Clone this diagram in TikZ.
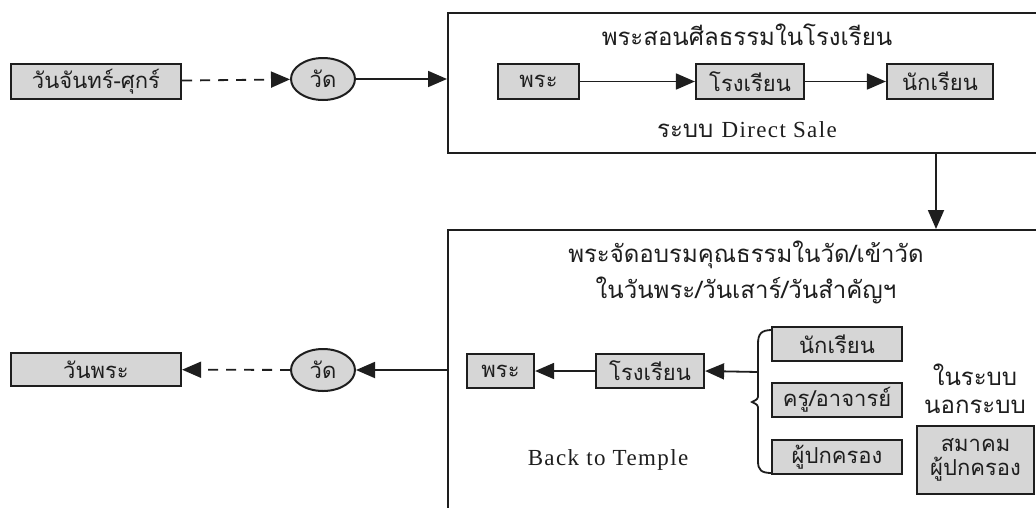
\documentclass[tikz,border=0pt]{standalone}
\usepackage{fontspec}
\setmainfont{Liberation Serif}
\newfontfamily\thai[Script=Thai]{Loma}
\newfontfamily\latin[LetterSpace=6]{Liberation Serif}
\usetikzlibrary{arrows.meta,shapes.geometric}
\definecolor{boxgray}{RGB}{214,214,214}
\definecolor{ink}{RGB}{30,30,30}
\begin{document}
\begin{tikzpicture}[x=1pt,y=-1pt,
  tbox/.style={draw=ink,line width=2.2pt,fill=boxgray,inner sep=0pt,text=ink,
    font=\thai\fontsize{22}{25}\selectfont},
  bigbox/.style={draw=ink,line width=2pt,fill=white,anchor=north west,inner sep=0pt},
  watnode/.style={ellipse,draw=ink,line width=2pt,fill=boxgray,minimum width=64pt,
    minimum height=42pt,inner sep=0pt,text=ink,font=\thai\fontsize{22}{25}\selectfont},
  lbl/.style={inner sep=0pt,text=ink,font=\thai\fontsize{24}{26}\selectfont},
  latlbl/.style={inner sep=0pt,text=ink,font=\latin\fontsize{23}{26}\selectfont},
  arr/.style={line width=1.8pt,draw=ink,-{Triangle[length=19pt,width=16pt]}},
  dsh/.style={dash pattern=on 10pt off 8pt}
]
\useasboundingbox[fill=white] (0,0) rectangle (1036,507);

% left column, top
\node[tbox,minimum width=170pt,minimum height=35pt] (mf) at (96,81.5) {วันจันทร์-ศุกร์};
\node[watnode] (wat1) at (323,79) {วัด};

% top big box
\node[bigbox,minimum width=620pt,minimum height=140pt] (topbox) at (447,12) {};
\node[lbl] (t1) at (747,35) {พระสอนศีลธรรมในโรงเรียน};
\node[tbox,minimum width=81pt,minimum height=35pt] (pra1) at (538.5,81.5) {พระ};
\node[tbox,minimum width=108pt,minimum height=35pt] (rr1) at (750,81.5) {โรงเรียน};
\node[tbox,minimum width=106pt,minimum height=35pt] (nr1) at (940,81.5) {นักเรียน};
\node[lbl] (ds) at (747,130) {ระบบ {\latin\fontsize{23}{26}\selectfont Direct Sale}};

% bottom big box
\node[bigbox,minimum width=620pt,minimum height=300pt] (botbox) at (447,229) {};
\node[lbl] (b1) at (746,255) {พระจัดอบรมคุณธรรมในวัด/เข้าวัด};
\node[lbl] (b2) at (746,290) {ในวันพระ/วันเสาร์/วันสำคัญฯ};
\node[tbox,minimum width=67pt,minimum height=34pt] (pra2) at (500.5,371) {พระ};
\node[tbox,minimum width=108pt,minimum height=34pt] (rr2) at (650,371) {โรงเรียน};
\node[tbox,minimum width=130pt,minimum height=34pt] (nr2) at (837,344) {นักเรียน};
\node[tbox,minimum width=130pt,minimum height=34pt] (kr2) at (837,400) {ครู/อาจารย์};
\node[tbox,minimum width=130pt,minimum height=34pt] (pk2) at (837,457) {ผู้ปกครอง};
\node[lbl] (nai) at (975,375) {ในระบบ};
\node[lbl] (nok) at (975,407) {นอกระบบ};
\node[tbox,minimum width=117pt,minimum height=68pt,align=center] (sm) at (975.5,460)
  {สมาคม\\[-1pt]ผู้ปกครอง};
\node[latlbl] (btt) at (608,460) {Back to Temple};

% left column, bottom
\node[tbox,minimum width=170pt,minimum height=33pt] (wp) at (96,369.5) {วันพระ};
\node[watnode] (wat2) at (323,370) {วัด};

% connectors top
\draw[arr,dsh] (mf) -- (wat1);
\draw[arr] (wat1.east) -- (wat1.east -| topbox.west);
\draw[arr] (pra1) -- (rr1);
\draw[arr] (rr1) -- (nr1);
\coordinate (vd) at (936,152);
\draw[arr] (vd) -- (vd |- botbox.north);

% connectors bottom
\draw[arr] (wat2.east -| botbox.west) -- (wat2.east);
\draw[arr,dsh] (wat2) -- (wp);
\draw[arr] (rr2) -- (pra2);
\coordinate (br) at (758,372);
\draw[arr] (br) -- (rr2.east);
\draw[line width=1.8pt,draw=ink] (772,330) .. controls (761,330) and (758,334) .. (758,344)
  -- (758,394) .. controls (758,399) .. (752,402) .. controls (758,405) .. (758,410)
  -- (758,461) .. controls (758,470) and (761,473) .. (772,473);
\end{tikzpicture}
\end{document}
